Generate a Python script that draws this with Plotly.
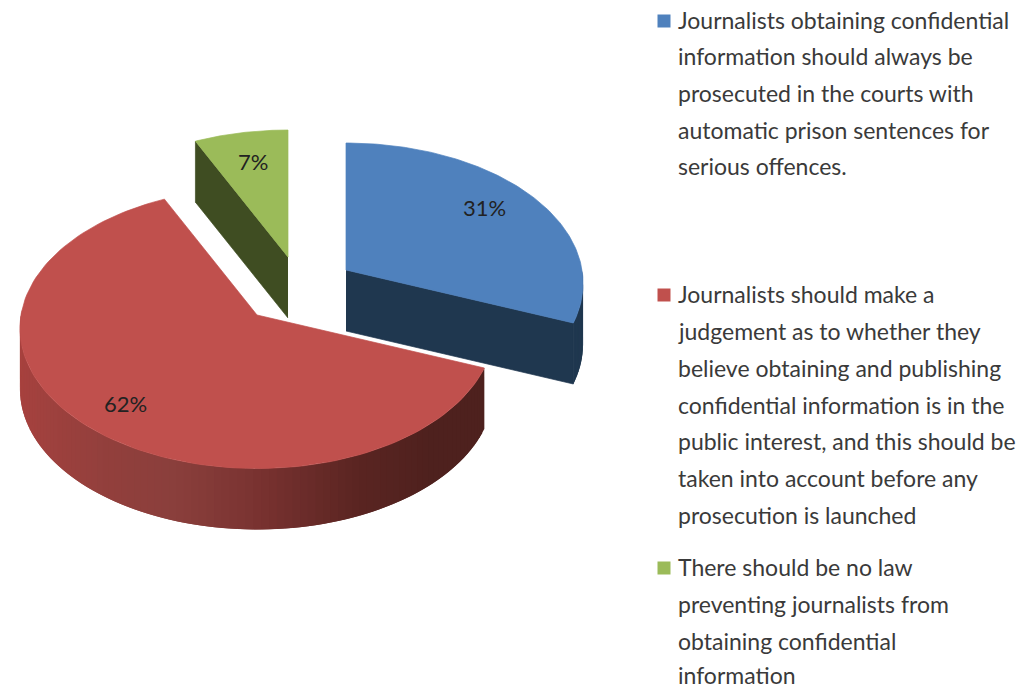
import numpy as np
import plotly.graph_objects as go

# ---- data ----
series_names = ["Always prosecute", "Public interest judgement", "No law"]
shares = [31, 62, 7]
share_labels = ["31%", "62%", "7%"]
legend_lines_1 = ["Journalists obtaining confidential", "information should always be",
                  "prosecuted in the courts with", "automatic prison sentences for",
                  "serious offences."]
legend_lines_2 = ["Journalists should make a", "judgement as to whether they",
                  "believe obtaining and publishing", "confidential information is in the",
                  "public interest, and this should be", "taken into account before any",
                  "prosecution is launched"]
legend_lines_3 = ["There should be no law", "preventing journalists from",
                  "obtaining confidential", "information"]

# ---- style / layout ----
top_colors = ["#4F81BD", "#C0504D", "#9BBB59"]
face_colors = ["#1F374F", "#4F211E", "#3F4D22"]
centers = [(346, 270), (257, 315), (288, 257)]
RX, RY, PERSP, DEPTH = 236, 139, 0.0945, 61
label_pos = [(484, 207), (125, 403), (253, 161)]
legend_x, legend_text_x = 664, 676
legend_y = [[20, 56, 93, 130, 166], [294, 331, 368, 405, 441, 478, 515], [567, 604, 641, 675]]
wall_stops_u = [-1.0, -0.6, -0.3, 0.0, 0.4, 0.7, 1.0]
wall_stops_rgb = [(168, 66, 63), (147, 64, 61), (138, 63, 60), (122, 51, 49), (90, 37, 34), (78, 33, 30), (78, 33, 30)]


def project(cx, cy, theta, radius=1.0):
    u, v = np.sin(theta), np.cos(theta)
    p = 1 / (1 + PERSP * v * radius)
    return cx + RX * u * radius * p, cy - RY * v * radius * p


fig = go.Figure()


def poly(xs, ys, color, lw=0.7):
    fig.add_trace(go.Scatter(x=list(xs), y=list(ys), mode="lines", fill="toself", fillcolor=color,
                             line=dict(color=color, width=lw), hoverinfo="skip", showlegend=False))


def wall(cx, cy, a, b, colorfn):
    # painted one way round the rim; each piece runs under the next so no seams show
    edges = np.linspace(a, b, int(max(2, abs(b - a) / 0.03)) + 1)
    for i in range(len(edges) - 1):
        t0, t1 = edges[i], edges[min(i + 2, len(edges) - 1)]
        mid = (edges[i] + edges[i + 1]) / 2
        if np.cos(mid) > 0.02:
            continue
        x0, y0 = project(cx, cy, t0)
        x1, y1 = project(cx, cy, t1)
        poly([x0, x1, x1, x0], [y0, y1, y1 + DEPTH, y0 + DEPTH], colorfn(np.sin(mid)), lw=0)


def red_wall_color(u):
    c = [int(np.interp(u, wall_stops_u, [s[i] for s in wall_stops_rgb])) for i in range(3)]
    return f"rgb({c[0]},{c[1]},{c[2]})"


def top(cx, cy, a, b, color):
    ts = np.linspace(a, b, 120)
    pts = [project(cx, cy, t) for t in ts]
    poly([cx] + [p[0] for p in pts] + [cx], [cy] + [p[1] for p in pts] + [cy], color)


def radial_face(cx, cy, t, color):
    x, y = project(cx, cy, t)
    poly([cx, x, x, cx], [cy, y, y + DEPTH, cy + DEPTH], color)


edges = 2 * np.pi * np.cumsum([0] + shares) / sum(shares)
slices = [(edges[i], edges[i + 1]) for i in range(3)]

# green (back)
cx, cy = centers[2]
a, b = slices[2]
radial_face(cx, cy, a, face_colors[2])
top(cx, cy, a, b, top_colors[2])
# red
cx, cy = centers[1]
a, b = slices[1]
wall(cx, cy, a, b, red_wall_color)
top(cx, cy, a, b, top_colors[1])
# blue
cx, cy = centers[0]
a, b = slices[0]
wall(cx, cy, a, b, lambda u: face_colors[0])
radial_face(cx, cy, b, face_colors[0])
top(cx, cy, a, b, top_colors[0])

annotations = []
for txt, (x, y) in zip(share_labels, label_pos):
    annotations.append(dict(x=x, y=y, text=txt, showarrow=False, xanchor="center", yanchor="middle",
                            font=dict(family="Lato", size=22, color="#222222")))

for i, (lines, ys) in enumerate(zip([legend_lines_1, legend_lines_2, legend_lines_3], legend_y)):
    fig.add_trace(go.Scatter(x=[legend_x], y=[ys[0] + 1], mode="markers", hoverinfo="skip", showlegend=False,
                             marker=dict(symbol="square", size=13, color=top_colors[i])))
    for line, y in zip(lines, ys):
        annotations.append(dict(x=legend_text_x, y=y, text=line, showarrow=False, xanchor="left", yanchor="middle",
                                font=dict(family="Lato", size=23, color="#3a3a3a")))

fig.update_layout(
    width=1033, height=688, margin=dict(l=0, r=0, t=0, b=0), autosize=False,
    paper_bgcolor="white", plot_bgcolor="white", showlegend=False, annotations=annotations,
    xaxis=dict(range=[0, 1033], visible=False, fixedrange=True),
    yaxis=dict(range=[688, 0], visible=False, fixedrange=True),
)
fig.write_html("out.html", config=dict(displayModeBar=False),
               post_script="document.body.style.margin='0';")
